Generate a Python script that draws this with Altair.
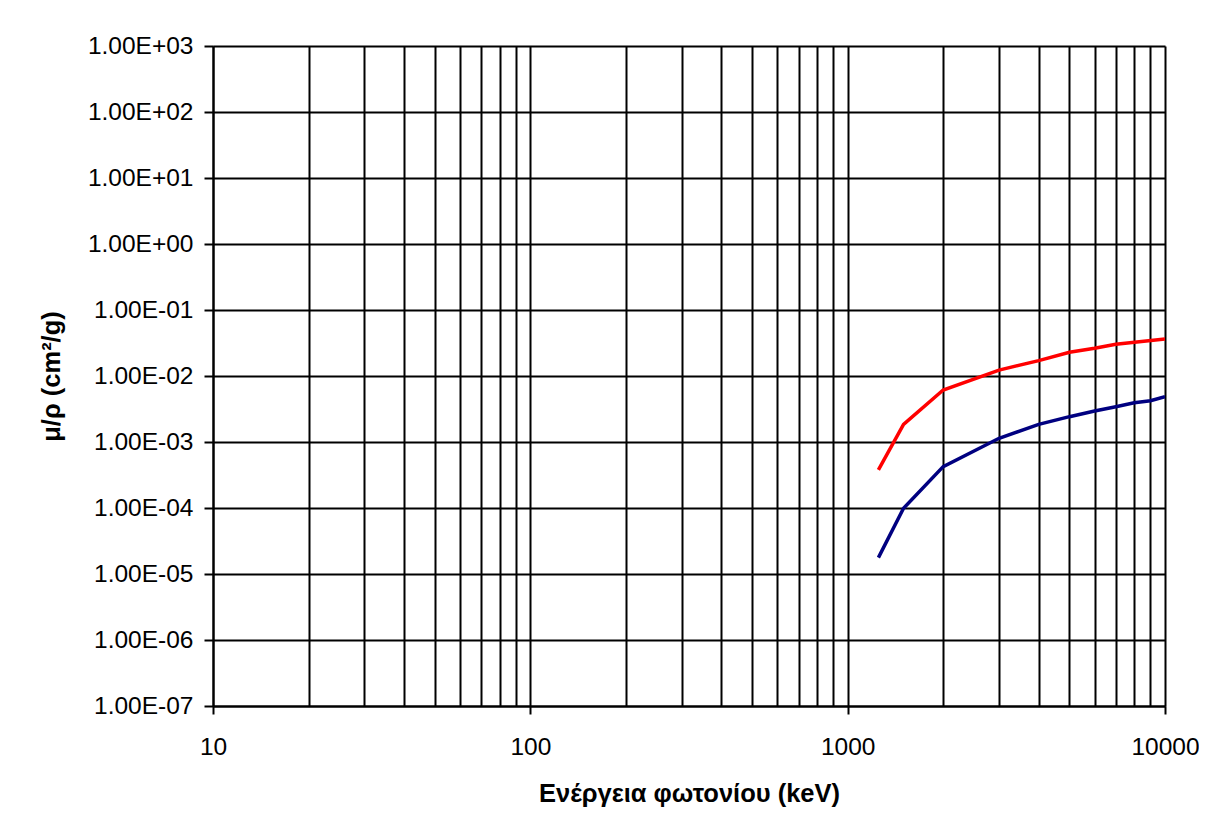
import json
import altair as alt
import pandas as pd

# ---- data ----
energy_red = [1250, 1500, 2000, 3000, 4000, 5000, 6000, 7000, 10000]
mu_red = [3.77e-4, 1.85e-3, 6.14e-3, 1.23e-2, 1.71e-2, 2.29e-2, 2.63e-2, 3.02e-2, 3.64e-2]

energy_blue = [1250, 1500, 2000, 3000, 4000, 5000, 6000, 7000, 8000, 9000, 10000]
mu_blue = [1.77e-5, 9.9e-5, 4.23e-4, 1.14e-3, 1.85e-3, 2.42e-3, 2.95e-3, 3.43e-3, 3.94e-3, 4.23e-3, 4.86e-3]

series_names = ["Σειρά 1", "Σειρά 2"]
series_colors = ["#FF0000", "#000080"]

x_grid_values = [10, 20, 30, 40, 50, 60, 70, 80, 90,
                 100, 200, 300, 400, 500, 600, 700, 800, 900,
                 1000, 2000, 3000, 4000, 5000, 6000, 7000, 8000, 9000, 10000]
x_label_values = [10, 100, 1000, 10000]
x_labels = ["10", "100", "1000", "10000"]

y_tick_values = [1e-7, 1e-6, 1e-5, 1e-4, 1e-3, 1e-2, 1e-1, 1e0, 1e1, 1e2, 1e3]
y_labels = ["1.00E-07", "1.00E-06", "1.00E-05", "1.00E-04", "1.00E-03", "1.00E-02",
            "1.00E-01", "1.00E+00", "1.00E+01", "1.00E+02", "1.00E+03"]

x_title = "Ενέργεια φωτονίου (keV)"
y_title = "μ/ρ (cm²/g)"

# ---- table ----
df = pd.concat([
    pd.DataFrame({"E": energy_red, "mu": mu_red, "series": series_names[0]}),
    pd.DataFrame({"E": energy_blue, "mu": mu_blue, "series": series_names[1]}),
], ignore_index=True)

FONT = "Liberation Sans"

decade_test = "indexof(" + json.dumps(x_label_values) + ", datum.value) >= 0"
x_label_expr = ("indexof(" + json.dumps(x_label_values) + ", datum.value) >= 0 ? "
                + json.dumps(x_labels) + "[indexof(" + json.dumps(x_label_values) + ", datum.value)] : ''")
y_label_expr = json.dumps(y_labels) + "[round(log(datum.value)/LN10) + 7]"

chart = alt.Chart(df).mark_line(strokeWidth=3.5, clip=True).encode(
    x=alt.X(
        "E:Q",
        scale=alt.Scale(type="log", domain=[10, 10000], nice=False),
        axis=alt.Axis(
            values=x_grid_values,
            title=x_title,
            labelExpr=x_label_expr,
            labelFlush=False,
            labelOverlap=False,
            tickSize=8,
            tickOpacity={"condition": {"test": decade_test, "value": 1}, "value": 0},
            labelPadding=21,
            titleY=95,
            titleBaseline="alphabetic",
        ),
    ),
    y=alt.Y(
        "mu:Q",
        scale=alt.Scale(type="log", domain=[1e-7, 1e3], nice=False),
        axis=alt.Axis(
            values=y_tick_values,
            title=y_title,
            labelExpr=y_label_expr,
            labelOverlap=False,
            labelFlush=False,
            tickSize=9,
            labelPadding=11,
            titleAngle=270,
            titleX=-154,
            titleY=330,
            titleAlign="center",
            titleBaseline="alphabetic",
        ),
    ),
    color=alt.Color(
        "series:N",
        scale=alt.Scale(domain=series_names, range=series_colors),
        legend=None,
    ),
).properties(
    width=952,
    height=660,
    autosize=alt.AutoSizeParams(type="none"),
    padding={"left": 205, "top": 38, "right": 34, "bottom": 110},
    background="white",
).configure_view(
    stroke=None,
).configure_axis(
    grid=True,
    gridColor="#000000",
    gridWidth=2,
    gridOpacity=1,
    domainColor="#000000",
    domainWidth=2,
    tickColor="#000000",
    tickWidth=2,
    labelFont=FONT,
    labelFontSize=24.5,
    labelColor="#000000",
    titleFont=FONT,
    titleFontSize=25.5,
    titleFontWeight="bold",
    titleColor="#000000",
)

chart.save("out.html", embed_options={"renderer": "svg", "actions": False})
